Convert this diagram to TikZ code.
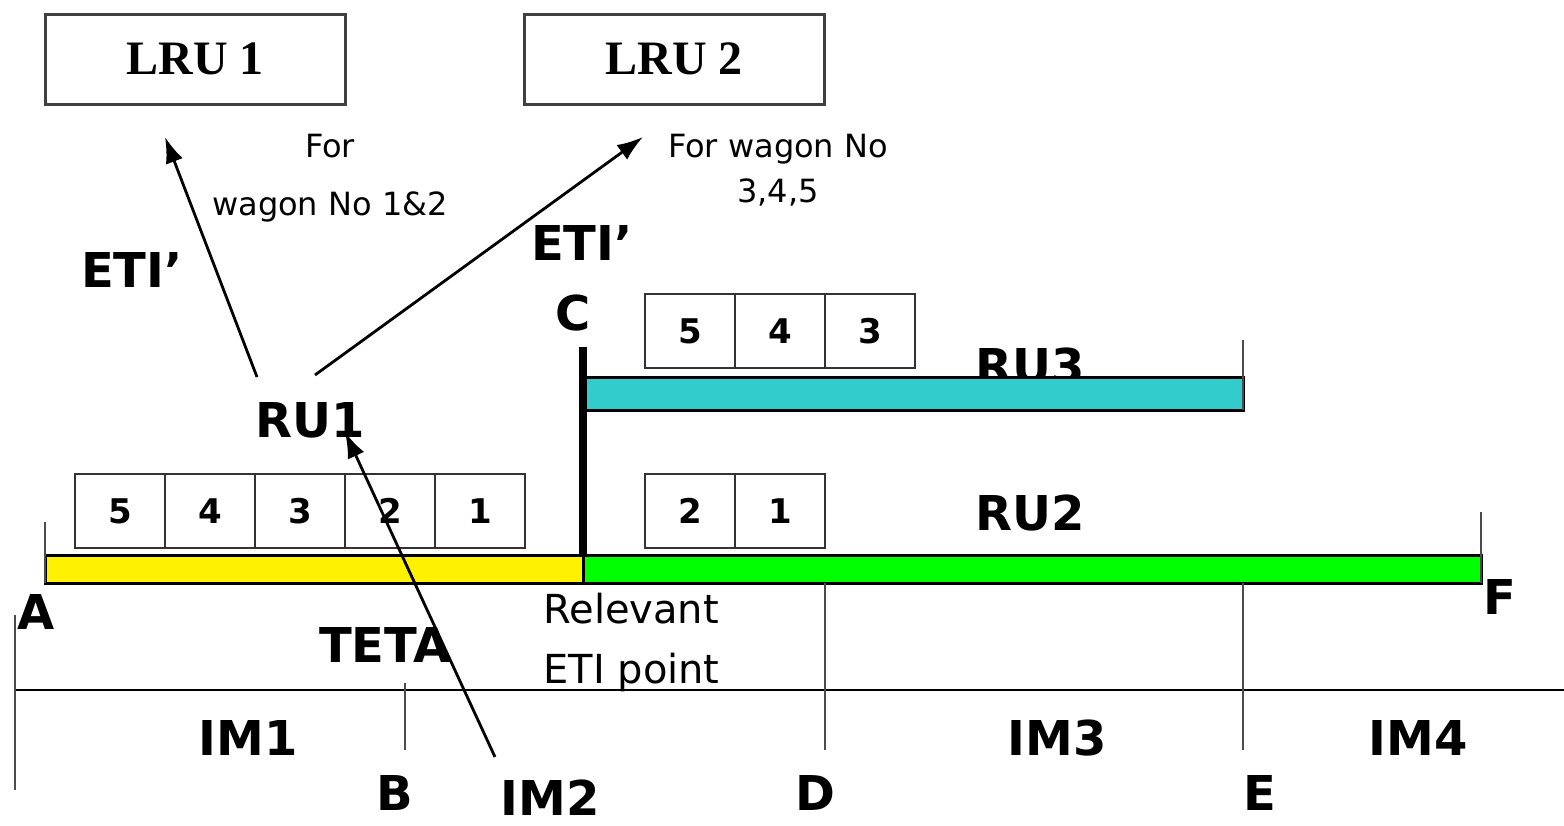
\documentclass[tikz,border=0pt]{standalone}
\usepackage{fontspec}
\setmainfont{DejaVu Sans}
\newfontfamily\lrufont{Liberation Serif}
\usetikzlibrary{arrows.meta}
\definecolor{ruthree}{RGB}{51,204,204}
\begin{document}
\begin{tikzpicture}[x=0.5pt,y=-0.5pt,
	lbl/.style={font=\bfseries\fontsize{24}{28}\selectfont,inner sep=0pt},
	txt/.style={font=\fontsize{16}{19}\selectfont,anchor=base,inner sep=0pt},
	lru/.style={draw=black!75,line width=1.5pt,minimum width=150pt,minimum height=45pt,font=\lrufont\bfseries\fontsize{24}{28}\selectfont},
	wagon/.style={draw=black!80,line width=1.4pt,minimum width=45pt,minimum height=37pt,inner sep=0pt,font=\bfseries\fontsize{17}{20}\selectfont},
	arr/.style={-{Latex[length=13pt,width=9pt]},line width=1.4pt},
	tick/.style={black!70,line width=1.1pt}]
	
	\useasboundingbox (0,0) rectangle (1564,825);
	
	% LRU boxes and notes
	\node[lru] (lru1) at (195,59) {LRU 1};
	\node[lru] (lru2) at (674,59) {LRU 2};
	\node[txt] (for1) at (330,157) {For};
	\node[txt] (wag1) at (330,215) {wagon No 1\&2};
	\node[txt] (for2) at (778,157) {For wagon No};
	\node[txt] (wag2) at (778,202) {3,4,5};
	
	\node[lbl] (eti1) at (132,270) {ETI’};
	\node[lbl] (eti2) at (582,243) {ETI’};
	\node[lbl] (c) at (573,313) {C};
	
	% upper train RU3
	\foreach \n [count=\i] in {5,4,3}
		\node[wagon] (u\n) at (690+90*\i-90,331) {\n};
	\node[lbl] (ru3) at (1030,366) {RU3};
	\draw[fill=ruthree,line width=1.5pt] (583,377) rectangle (1243,410);
	\draw[tick] (1243,340) -- (1243,410);
	
	% lower train RU1 / RU2
	\node[lbl] (ru1) at (310,420) {RU1};
	\node[lbl] (ru2) at (1030,513) {RU2};
	\foreach \n [count=\i] in {5,4,3,2,1}
		\node[wagon] (l\n) at (120+90*\i-90,511) {\n};
	\node[wagon] (r2) at (690,511) {2};
	\node[wagon] (r1) at (780,511) {1};
	\draw[fill=yellow,line width=1.5pt] (45,555) rectangle (583,583);
	\draw[fill=green,line width=1.5pt] (583,555) rectangle (1481,583);
	\draw[line width=4pt] (583,347) -- (583,555);
	\draw[tick] (45,522) -- (45,583);
	\draw[tick] (1481,512) -- (1481,583);
	
	\node[lbl] (a) at (36,612) {A};
	\node[lbl] (f) at (1500,597) {F};
	\node[txt,anchor=base west,font=\fontsize{20}{24}\selectfont] (rel) at (543,623) {Relevant};
	\node[txt,anchor=base west,font=\fontsize{20}{24}\selectfont] (etip) at (543,683) {ETI point};
	\node[lbl] (teta) at (385,645) {TETA};
	
	% infrastructure line
	\draw[line width=1.2pt] (15,690) -- (1564,690);
	\draw[tick] (15,615) -- (15,790);
	\draw[tick] (405,683) -- (405,750);
	\draw[tick] (825,583) -- (825,750);
	\draw[tick] (1243,583) -- (1243,750);
	
	\node[lbl] (im1) at (248,738) {IM1};
	\node[lbl] (im3) at (1057,738) {IM3};
	\node[lbl] (im4) at (1418,738) {IM4};
	\node[lbl] (b) at (395,793) {B};
	\node[lbl] (im2) at (550,798) {IM2};
	\node[lbl] (d) at (815,793) {D};
	\node[lbl] (e) at (1260,793) {E};
	
	% arrows
	\coordinate (s1) at (257,377);
	\coordinate (s2) at (315,375);
	\coordinate (s3) at (495,757);
	\coordinate (t1) at (165,137);
	\coordinate (t2) at (643,137);
	\coordinate (t3) at (345,432);
	\draw[arr] (s1) -- (t1);
	\draw[arr] (s2) -- (t2);
	\draw[arr] (s3) -- (t3);
	
\end{tikzpicture}
\end{document}
